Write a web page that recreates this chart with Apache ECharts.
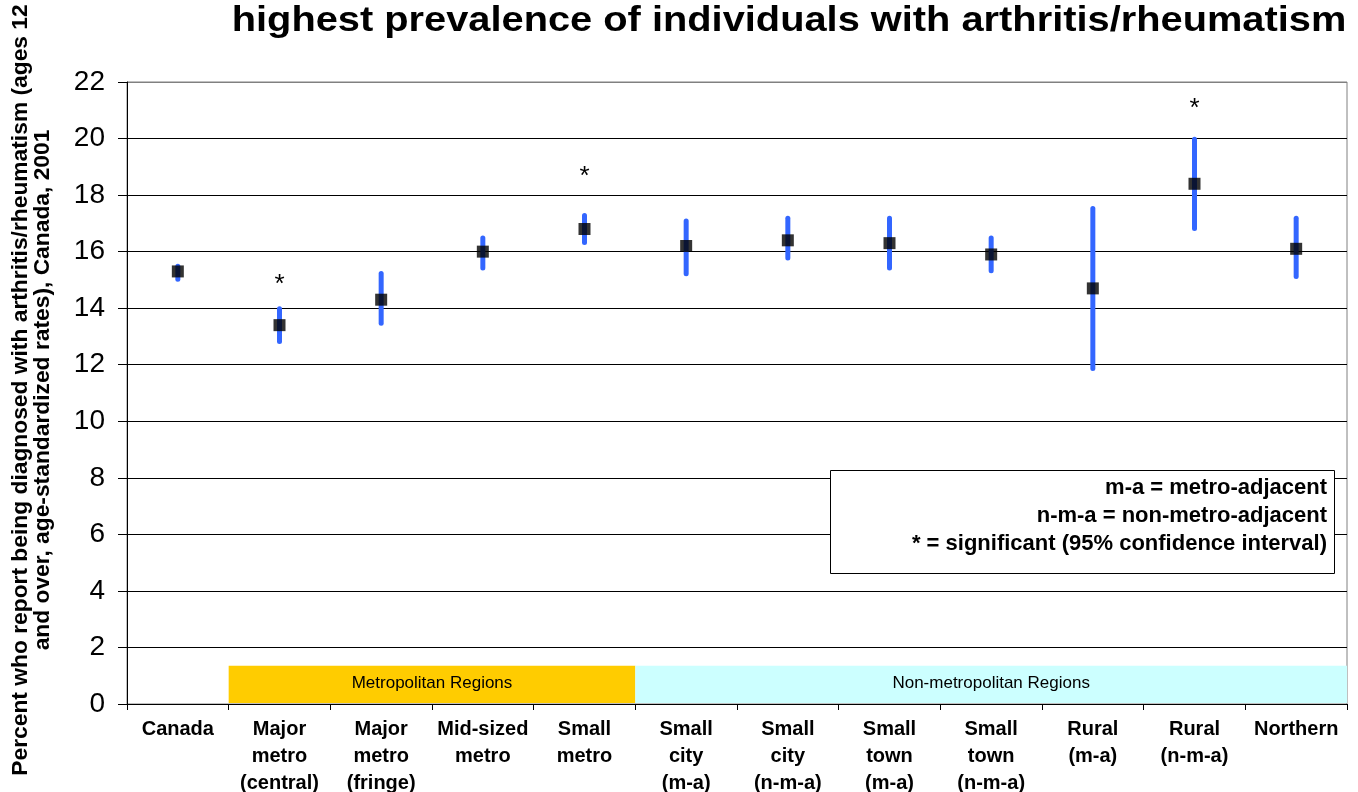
<!DOCTYPE html>
<html><head><meta charset="utf-8">
<script src="https://cdn.jsdelivr.net/npm/echarts@6/dist/echarts.min.js"></script>
<style>html,body{margin:0;padding:0;background:#fff}#c{width:1358px;height:792px}</style>
</head><body><div id="c"></div>
<script>
const categories = ['Canada','Major\nmetro\n(central)','Major\nmetro\n(fringe)','Mid-sized\nmetro','Small\nmetro','Small\ncity\n(m-a)','Small\ncity\n(n-m-a)','Small\ntown\n(m-a)','Small\ntown\n(n-m-a)','Rural\n(m-a)','Rural\n(n-m-a)','Northern'];
const rates = [15.3, 13.4, 14.3, 16.0, 16.8, 16.2, 16.4, 16.3, 15.9, 14.7, 18.4, 16.1];
const ciLow = [14.95, 12.75, 13.4, 15.35, 16.25, 15.15, 15.7, 15.35, 15.25, 11.8, 16.75, 15.05];
const ciHigh = [15.55, 14.05, 15.3, 16.55, 17.35, 17.15, 17.25, 17.25, 16.55, 17.6, 20.05, 17.25];
const starLevel = [null, 14.95, null, null, 18.8, null, null, null, null, null, 21.2, null];
const yTicks = [0, 2, 4, 6, 8, 10, 12, 14, 16, 18, 20, 22];
const groupLabels = ['Metropolitan Regions', 'Non-metropolitan Regions'];
const groupStart = [1, 5];
const groupEnd = [4, 11];
const groupColors = ['#FFCC00', '#CCFFFF'];
const legendLines = ['m-a = metro-adjacent', 'n-m-a = non-metro-adjacent', '* = significant (95% confidence interval)'];
const titleText = 'highest prevalence of individuals with arthritis/rheumatism';
const yName = 'Percent who report being diagnosed with arthritis/rheumatism (ages 12\nand over, age-standardized rates), Canada, 2001';

const chart = echarts.init(document.getElementById('c'));
const FONT = 'Arial, "Liberation Sans", sans-serif';
const bandTop = 1.35;
const splitColors = yTicks.map((t, i) => i === yTicks.length - 1 ? '#808080' : '#000');

chart.setOption({
  animation: false,
  backgroundColor: '#fff',
  grid: {left: 127, right: 11, top: 82, bottom: 88, outerBoundsMode: 'none', containLabel: false,
         show: true, borderColor: '#808080', borderWidth: 1, backgroundColor: 'transparent'},
  xAxis: {
    type: 'category', data: categories, boundaryGap: true,
    axisLine: {lineStyle: {color: '#000', width: 1}},
    axisTick: {show: true, length: 6, lineStyle: {color: '#000'}},
    axisLabel: {interval: 0, margin: 12, fontFamily: FONT, fontWeight: 'bold', fontSize: 20, lineHeight: 27, color: '#000', verticalAlign: 'top'},
    z: 10
  },
  yAxis: {
    type: 'value', min: yTicks[0], max: yTicks[yTicks.length - 1], interval: 2,
    axisLine: {show: true, lineStyle: {color: '#000', width: 1}},
    axisTick: {show: true, length: 9, lineStyle: {color: '#000'}},
    axisLabel: {margin: 22, fontFamily: FONT, fontSize: 28, color: '#000'},
    splitLine: {show: true, lineStyle: {color: splitColors, width: 1}}
  },
  graphic: [
    {type: 'text', x: 789, y: 22, scaleY: 0.86, style: {text: titleText, fontFamily: FONT, fontWeight: 'bold', fontSize: 39.8, fill: '#000', align: 'center', verticalAlign: 'middle'}},
    {type: 'text', rotation: Math.PI / 2, x: 32, y: 390, style: {text: yName,
       fontFamily: FONT, fontWeight: 'bold', fontSize: 22.8, lineHeight: 22, fill: '#000', align: 'center', verticalAlign: 'middle'}},
    {type: 'rect', shape: {x: 830.5, y: 470.5, width: 504, height: 103}, style: {fill: '#fff', stroke: '#000', lineWidth: 1}, z: 20},
    {type: 'text', x: 1327, y: 474, z: 21, style: {text: legendLines.join('\n'), fontFamily: FONT, fontWeight: 'bold', fontSize: 22, lineHeight: 28, fill: '#000', align: 'right', verticalAlign: 'top'}}
  ],
  series: [
    {
      type: 'custom', z: 1, silent: true,
      data: groupLabels.map((l, i) => [groupStart[i], groupEnd[i], i]),
      renderItem: function (params, api) {
        const s = api.value(0), e = api.value(1), idx = api.value(2);
        const p1 = api.coord([s, 0]);
        const p2 = api.coord([e, bandTop]);
        const w = api.size([1, 0])[0];
        const x0 = p1[0] - w / 2, x1 = p2[0] + w / 2;
        return {
          type: 'group', children: [
            {type: 'rect', shape: {x: x0, y: p2[1], width: x1 - x0, height: p1[1] - p2[1] - 1}, style: {fill: groupColors[idx]}},
            {type: 'text', x: (x0 + x1) / 2, y: (p1[1] + p2[1]) / 2 - 2, style: {text: groupLabels[idx], fontFamily: FONT, fontSize: 17, fill: '#000', align: 'center', verticalAlign: 'middle'}}
          ]
        };
      }
    },
    {
      type: 'custom', z: 3, silent: true,
      data: categories.map((c, i) => [i, ciLow[i], ciHigh[i]]),
      renderItem: function (params, api) {
        const lo = api.coord([api.value(0), api.value(1)]);
        const hi = api.coord([api.value(0), api.value(2)]);
        return {type: 'line', shape: {x1: lo[0], y1: lo[1] - 2, x2: hi[0], y2: hi[1] + 2},
          style: {stroke: '#3366FF', lineWidth: 5, lineCap: 'round'}};
      }
    },
    {
      type: 'scatter', z: 4, symbol: 'rect', symbolSize: [12, 12],
      itemStyle: {color: '#000'},
      data: rates
    },
    {
      type: 'custom', z: 5, silent: true,
      data: categories.map((c, i) => [i, starLevel[i] == null ? NaN : starLevel[i]]),
      renderItem: function (params, api) {
        const v = api.value(1);
        if (isNaN(v)) return null;
        const p = api.coord([api.value(0), v]);
        return {type: 'text', x: p[0], y: p[1] + 4, style: {text: '*', fontFamily: FONT, fontSize: 26, fill: '#000', align: 'center', verticalAlign: 'middle'}};
      }
    }
  ]
});
</script>
</body></html>
